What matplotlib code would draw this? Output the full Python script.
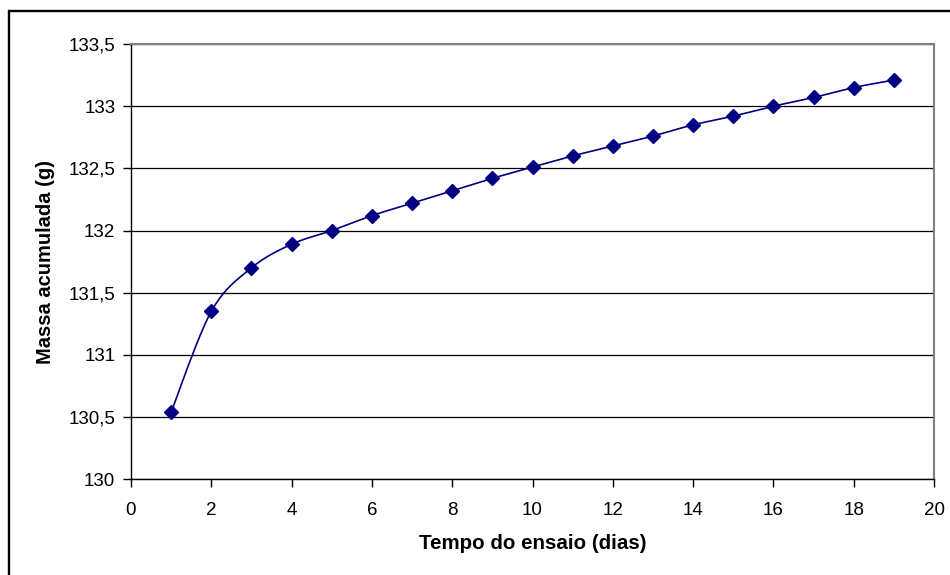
import numpy as np
import matplotlib
matplotlib.use("Agg")
import matplotlib.pyplot as plt
from matplotlib.patches import Rectangle

plt.rcParams['font.family'] = ['Liberation Sans', 'DejaVu Sans']

dias = [1, 2, 3, 4, 5, 6, 7, 8, 9, 10, 11, 12, 13, 14, 15, 16, 17, 18, 19]
massa = [130.54, 131.35, 131.70, 131.89, 132.00, 132.12, 132.22, 132.32, 132.42,
         132.51, 132.60, 132.68, 132.76, 132.85, 132.92, 133.00, 133.07, 133.15, 133.21]
x_ticks = [0, 2, 4, 6, 8, 10, 12, 14, 16, 18, 20]
y_ticks = [130, 130.5, 131, 131.5, 132, 132.5, 133, 133.5]
y_labels = ['130', '130,5', '131', '131,5', '132', '132,5', '133', '133,5']
x_label = 'Tempo do ensaio (dias)'
y_label = 'Massa acumulada (g)'


def smooth(xs, ys, n=20):
    # Catmull-Rom style smoothing for line drawing (like Excel's smoothed line)
    xs = np.asarray(xs, float)
    ys = np.asarray(ys, float)
    px = np.concatenate([[xs[0]], xs, [xs[-1]]])
    py = np.concatenate([[ys[0]], ys, [ys[-1]]])
    outx, outy = [], []
    t = np.linspace(0, 1, n, endpoint=False)
    for i in range(1, len(px) - 2):
        p0x, p1x, p2x, p3x = px[i - 1], px[i], px[i + 1], px[i + 2]
        p0y, p1y, p2y, p3y = py[i - 1], py[i], py[i + 1], py[i + 2]
        c1x = p1x + (p2x - p0x) / 6
        c1y = p1y + (p2y - p0y) / 6
        c2x = p2x - (p3x - p1x) / 6
        c2y = p2y - (p3y - p1y) / 6
        b0 = (1 - t) ** 3
        b1 = 3 * (1 - t) ** 2 * t
        b2 = 3 * (1 - t) * t ** 2
        b3 = t ** 3
        outx.extend(b0 * p1x + b1 * c1x + b2 * c2x + b3 * p2x)
        outy.extend(b0 * p1y + b1 * c1y + b2 * c2y + b3 * p2y)
    outx.append(xs[-1])
    outy.append(ys[-1])
    return outx, outy


fig = plt.figure(figsize=(9.5, 5.75), dpi=100)
fig.patches.append(Rectangle((8.7 / 950, -0.1), 1.2, 1.1 - 11.3 / 575, transform=fig.transFigure,
                             fill=False, edgecolor='black', linewidth=1.7))
ax = fig.add_axes([131 / 950, 1 - 479.3 / 575, (934 - 131) / 950, (479.3 - 44) / 575])

ax.set_xlim(0, 20)
ax.set_ylim(130, 133.5)
ax.set_xticks(x_ticks)
ax.set_yticks(y_ticks)
ax.set_yticklabels(y_labels)
ax.yaxis.grid(True, color='black', linewidth=0.9)
ax.set_axisbelow(True)

sx, sy = smooth(dias, massa)
ax.plot(sx, sy, color='#000080', linewidth=1.2, zorder=3)
ax.plot(dias, massa, linestyle='none', marker='D', markersize=7, color='#000080', zorder=4)

for s in ['top', 'right']:
    ax.spines[s].set_color('#808080')
    ax.spines[s].set_linewidth(1.5)
for s in ['left', 'bottom']:
    ax.spines[s].set_color('black')
    ax.spines[s].set_linewidth(1.0)

ax.tick_params(axis='both', direction='out', length=5.5, width=1, labelsize=13.5, colors='black')
ax.tick_params(axis='x', pad=10.5)
ax.tick_params(axis='y', pad=5.8)
ax.set_xlabel(x_label, fontsize=14.8, fontweight='bold', labelpad=11)
ax.set_ylabel(y_label, fontsize=14.5, fontweight='bold', labelpad=10)

fig.savefig('out.png', dpi=100)
